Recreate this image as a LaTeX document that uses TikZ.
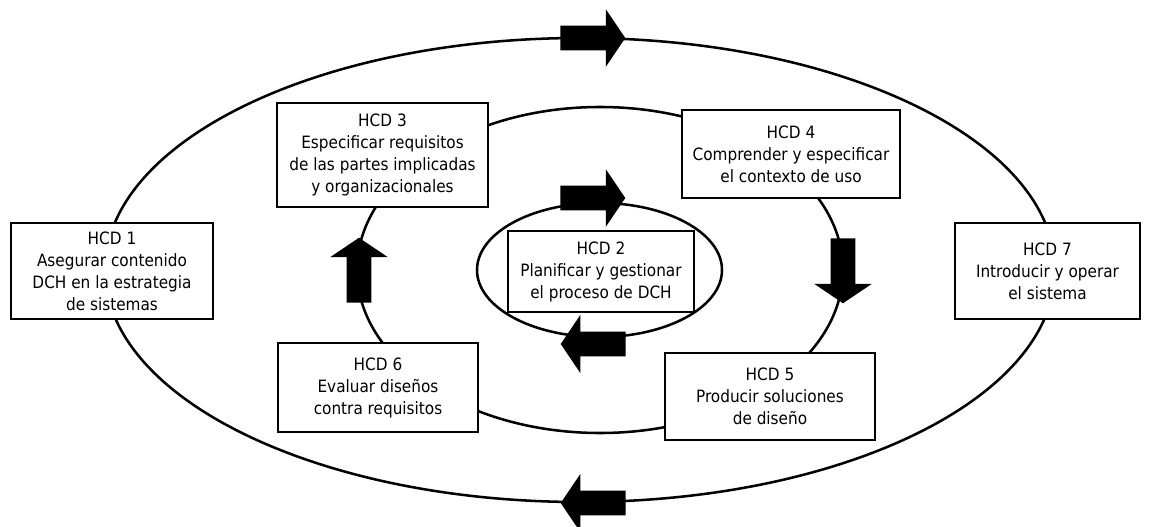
\documentclass[tikz,border=0pt]{standalone}
\usepackage{fontspec}
\setmainfont{DejaVu Sans Condensed}
\usepackage{tikz}
\usetikzlibrary{shapes.arrows}

\tikzset{
  hcdbox/.style={draw, line width=0.9pt, fill=white, align=center, inner sep=0pt,
    font=\fontsize{12.75}{16.5}\selectfont},
  ring/.style={line width=1.9pt},
  bigarrow/.style={single arrow, fill=black, draw=none, inner xsep=0pt, inner ysep=9pt,
    minimum width=0pt, minimum height=48.75pt, single arrow head extend=12.5pt,
    single arrow tip angle=112, anchor=tail}
}

\begin{document}
\begin{tikzpicture}[x=0.75pt,y=0.75pt,yscale=-1,xscale=1]
\useasboundingbox (0,0) rectangle (1153,527);

%Shape: Ellipse outer
\draw [ring] (580,270) circle [x radius=475, y radius=232];
%Shape: Ellipse middle
\draw [ring] (600,270) circle [x radius=243, y radius=163];
%Shape: Ellipse inner
\draw [ring] (599.5,270) circle [x radius=122.5, y radius=67];

% Text Node
\node [hcdbox, minimum width=151.5pt, minimum height=72pt] (hcd1) at (112,271) {HCD 1\\Asegurar contenido\\DCH en la estrategia\\de sistemas};
% Text Node
\node [hcdbox, minimum width=139.5pt, minimum height=60.75pt] (hcd2) at (601,271.5) {HCD 2\\Planificar y gestionar\\el proceso de DCH};
% Text Node
\node [hcdbox, minimum width=158.25pt, minimum height=78pt] (hcd3) at (382.5,155) {HCD 3\\Especificar requisitos\\de las partes implicadas\\y organizacionales};
% Text Node
\node [hcdbox, minimum width=163.5pt, minimum height=66pt] (hcd4) at (791,154) {HCD 4\\Comprender y especificar\\el contexto de uso};
% Text Node
\node [hcdbox, minimum width=157.5pt, minimum height=65.25pt] (hcd5) at (770,396.5) {HCD 5\\Producir soluciones\\de diseño};
% Text Node
\node [hcdbox, minimum width=150pt, minimum height=66.75pt] (hcd6) at (378,387.5) {HCD 6\\Evaluar diseños\\contra requisitos};
% Text Node
\node [hcdbox, minimum width=138.75pt, minimum height=72pt] (hcd7) at (1047.5,271) {HCD 7\\Introducir y operar\\el sistema};

%Block arrows
\node [bigarrow] (outtop) at (560,38) {};
\node [bigarrow, rotate=180] (outbot) at (626,503) {};
\node [bigarrow] (intop) at (560,198) {};
\node [bigarrow, rotate=180] (inbot) at (626,344) {};
\node [bigarrow, rotate=90] (midleft) at (359,303) {};
\node [bigarrow, rotate=-90] (midright) at (843,238) {};

\end{tikzpicture}
\end{document}
